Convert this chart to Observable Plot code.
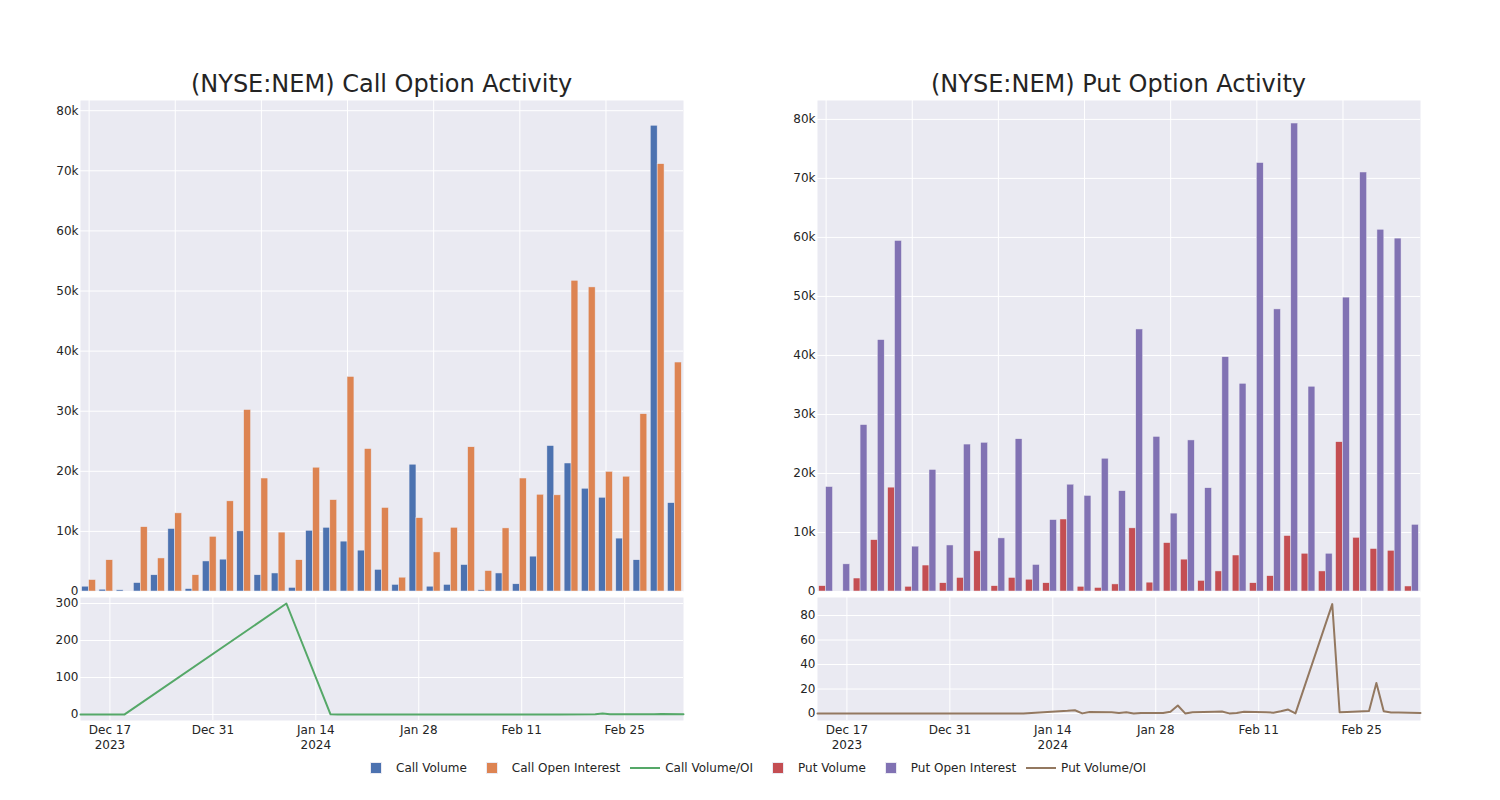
<!DOCTYPE html>
<html>
<head>
<meta charset="utf-8">
<script src="https://cdn.jsdelivr.net/npm/d3@7"></script>
<script src="https://cdn.jsdelivr.net/npm/@observablehq/plot@0.6"></script>
<style>
  body { margin: 0; background: #fff; font-family: "DejaVu Sans", sans-serif; color: #242424; }
  #root { position: relative; width: 1500px; height: 800px; overflow: hidden; }
  .panel { position: absolute; }
  .title { position: absolute; font-size: 24px; line-height: 28px; text-align: center; white-space: nowrap; color: #242424; }
  #legend { position: absolute; left: 356px; top: 760px; display: flex; font-size: 12px; line-height: 16px; white-space: nowrap; }
  .item { position: relative; padding-left: 40px; margin-right: 5px; }
  .sq { position: absolute; left: 14px; top: 2px; width: 12px; height: 12px; box-sizing: border-box; border: 0.5px solid #EAEAF2; }
  .ln { position: absolute; left: 5px; top: 7px; width: 30px; height: 2px; }
</style>
</head>
<body>
<div id="root"></div>
<script>
// ---- data ----
const categories = ["2024-01-12","2024-01-16","2024-01-17","2024-01-18","2024-01-19","2024-01-22","2024-01-23","2024-01-24","2024-01-25","2024-01-26","2024-01-29","2024-01-30","2024-01-31","2024-02-01","2024-02-02","2024-02-05","2024-02-06","2024-02-07","2024-02-08","2024-02-09","2024-02-12","2024-02-13","2024-02-14","2024-02-15","2024-02-16","2024-02-20","2024-02-21","2024-02-22","2024-02-23","2024-02-26","2024-02-27","2024-02-28","2024-02-29","2024-03-01","2024-03-04"];
const callVolume = [800,300,200,1400,2700,10400,400,5000,5300,10000,2700,3000,600,10100,10600,8300,6800,3600,1100,21100,800,1100,4400,200,3000,1200,5800,24200,21300,17100,15600,8800,5200,77500,14700];
const callOpenInterest = [1900,5200,0,10700,5500,13000,2700,9100,15000,30200,18800,9800,5200,20600,15200,35700,23700,13900,2300,12200,6500,10600,24000,3400,10500,18800,16100,16000,51700,50600,19900,19100,29500,71100,38100];
const putVolume = [900,0,2200,8700,17600,800,4400,1400,2300,6800,900,2300,2000,1400,12200,800,600,1200,10700,1500,8200,5400,1800,3400,6100,1400,2600,9400,6400,3400,25300,9100,7200,6900,850];
const putOpenInterest = [17700,4600,28200,42600,59400,7600,20600,7800,24900,25200,9000,25800,4500,12100,18100,16200,22500,17000,44400,26200,13200,25600,17500,39700,35200,72600,47800,79300,34700,6400,49800,71000,61300,59800,11300];

const ratioDates = ["2023-12-13","2023-12-19","2024-01-10","2024-01-16","2024-01-17","2024-01-18","2024-01-19","2024-01-22","2024-01-23","2024-01-24","2024-01-25","2024-01-26","2024-01-29","2024-01-30","2024-01-31","2024-02-01","2024-02-02","2024-02-05","2024-02-06","2024-02-07","2024-02-08","2024-02-09","2024-02-12","2024-02-13","2024-02-14","2024-02-15","2024-02-16","2024-02-21","2024-02-22","2024-02-23","2024-02-26","2024-02-27","2024-02-28","2024-02-29","2024-03-01","2024-03-04"];
const callVolOI = [0.1,0.2,300,0.4,0.3,0.2,0.3,0.2,0.2,0.3,0.2,0.2,0.3,0.2,0.3,0.2,0.2,0.3,0.2,0.2,0.3,0.2,0.2,0.3,0.2,0.3,0.2,0.5,2.5,0.4,0.5,0.6,0.8,1.0,1.2,0.4];
const putVolOI = [0,0,0,2.2,2.7,0.1,1.3,1.0,0.5,1.1,0.0,0.4,0.4,1.5,6.5,0.1,1.0,1.5,1.6,0.1,0.4,1.4,1.0,0.7,1.8,3.2,0.1,89.3,1.0,1.3,2.1,24.9,1.9,0.9,0.8,0.5];

const dateRange = ["2023-12-13","2024-03-04"];
const dateTicks = ["2023-12-17","2023-12-31","2024-01-14","2024-01-28","2024-02-11","2024-02-25"];
const dateTickLabels = ["Dec 17\n2023","Dec 31","Jan 14\n2024","Jan 28","Feb 11","Feb 25"];
const barTicks = [0,10000,20000,30000,40000,50000,60000,70000,80000];
const callRatioTicks = [0,100,200,300];
const putRatioTicks = [0,20,40,60,80];

const colors = {
  callVolume: "#4C72B0", callOI: "#DD8452", callRatio: "#55A868",
  putVolume: "#C44E52", putOI: "#8172B3", putRatio: "#937860"
};
const legendItems = [
  {name: "Call Volume", type: "bar", color: colors.callVolume},
  {name: "Call Open Interest", type: "bar", color: colors.callOI},
  {name: "Call Volume/OI", type: "line", color: colors.callRatio},
  {name: "Put Volume", type: "bar", color: colors.putVolume},
  {name: "Put Open Interest", type: "bar", color: colors.putOI},
  {name: "Put Volume/OI", type: "line", color: colors.putRatio}
];

// ---- drawing ----
const W = 700, ML = 80, MR = 17;
const BG = "#EAEAF2";
const baseStyle = {fontFamily: "DejaVu Sans", fontSize: "12px", color: "#242424", background: "transparent", overflow: "visible"};
const root = document.getElementById("root");

function place(node, left, top) {
  node.classList.add("panel");
  node.style.left = left + "px";
  node.style.top = top + "px";
  root.appendChild(node);
}

function barChart(vol, oi, volColor, oiColor, yMax) {
  const rows = categories.map((c, i) => ({c, vol: vol[i], oi: oi[i]}));
  const step = (W - ML - MR) / categories.length;
  const half = step * 0.8 / 2;
  return Plot.plot({
    width: W, height: 500, marginLeft: ML, marginRight: MR, marginTop: 5, marginBottom: 4,
    style: baseStyle,
    x: {type: "band", domain: categories, paddingInner: 0.2, paddingOuter: 0.1, round: false, axis: null},
    y: {domain: [0, yMax]},
    marks: [
      Plot.frame({fill: BG, stroke: null}),
      Plot.gridY(barTicks, {stroke: "white", strokeOpacity: 1, strokeWidth: 1}),
      Plot.gridX(categories.filter((d, i) => i % 5 === 0), {stroke: "white", strokeOpacity: 1, strokeWidth: 1}),
      Plot.axisY(barTicks, {tickSize: 0, tickPadding: 2, tickFormat: d3.format("~s"), label: null}),
      Plot.barY(rows, {x: "c", y: "vol", fill: volColor, stroke: BG, strokeWidth: 0.5, insetRight: half}),
      Plot.barY(rows, {x: "c", y: "oi", fill: oiColor, stroke: BG, strokeWidth: 0.5, insetLeft: half})
    ]
  });
}

function lineChart(vals, color, yDomain, yTicks) {
  const rows = ratioDates.map((d, i) => ({d: new Date(d), v: vals[i]}));
  const ticks = dateTicks.map(d => new Date(d));
  const labelOf = new Map(ticks.map((d, i) => [d.getTime(), dateTickLabels[i]]));
  return Plot.plot({
    width: W, height: 166, marginLeft: ML, marginRight: MR, marginTop: 3, marginBottom: 40,
    style: baseStyle,
    x: {type: "utc", domain: dateRange.map(d => new Date(d))},
    y: {domain: yDomain},
    marks: [
      Plot.frame({fill: BG, stroke: null}),
      Plot.gridX(ticks, {stroke: "white", strokeOpacity: 1, strokeWidth: 1}),
      Plot.gridY(yTicks, {stroke: "white", strokeOpacity: 1, strokeWidth: 1}),
      Plot.axisX(ticks, {tickSize: 0, tickPadding: 3, tickFormat: d => labelOf.get(d.getTime()), lineHeight: 1.25, label: null}),
      Plot.axisY(yTicks, {tickSize: 0, tickPadding: 2, label: null}),
      Plot.lineY(rows, {x: "d", y: "v", stroke: color, strokeWidth: 2})
    ]
  });
}

function title(text, left) {
  const t = document.createElement("div");
  t.className = "title";
  t.textContent = text;
  t.style.left = left + "px";
  t.style.width = (W - ML - MR) + "px";
  t.style.top = "70px";
  root.appendChild(t);
}

title("(NYSE:NEM) Call Option Activity", ML);
title("(NYSE:NEM) Put Option Activity", 737 + ML);

place(barChart(callVolume, callOpenInterest, colors.callVolume, colors.callOI, 81700), 0, 95);
place(lineChart(callVolOI, colors.callRatio, [-16.2, 316.2], callRatioTicks), 0, 594);
place(barChart(putVolume, putOpenInterest, colors.putVolume, colors.putOI, 83200), 737, 95);
place(lineChart(putVolOI, colors.putRatio, [-5.7, 94.7], putRatioTicks), 737, 594);

// legend
const lg = document.createElement("div");
lg.id = "legend";
for (const it of legendItems) {
  const d = document.createElement("div");
  d.className = "item";
  const ic = document.createElement("span");
  ic.className = it.type === "bar" ? "sq" : "ln";
  ic.style.background = it.color;
  d.appendChild(ic);
  d.appendChild(document.createTextNode(it.name));
  lg.appendChild(d);
}
root.appendChild(lg);
</script>
</body>
</html>
